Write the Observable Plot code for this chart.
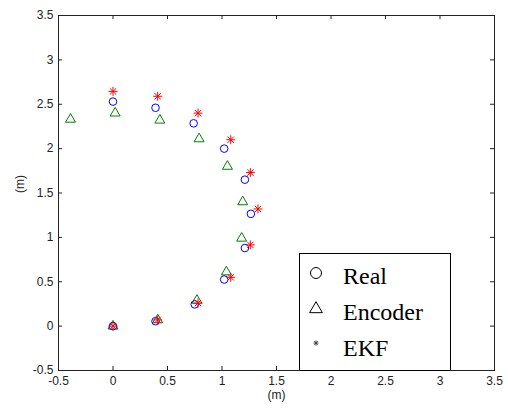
<!DOCTYPE html>
<html>
<head>
<meta charset="utf-8">
<script src="https://cdn.jsdelivr.net/npm/d3@7"></script>
<script src="https://cdn.jsdelivr.net/npm/@observablehq/plot@0.6"></script>
<style>
  html, body { margin: 0; padding: 0; background: #fff; }
  #wrap { position: relative; width: 508px; height: 409px; }
  #legend { position: absolute; left: 299px; top: 253px; width: 150px; height: 116px;
            border: 1px solid #000; background: #fff; box-sizing: content-box; }
</style>
</head>
<body>
<div id="wrap"><div id="chart"></div><div id="legend"></div></div>
<script>
// Data
const realX    = [0, 0.39, 0.75, 1.02, 1.21, 1.265, 1.21, 1.02, 0.74, 0.39, 0];
const realY    = [0, 0.055, 0.245, 0.525, 0.88, 1.265, 1.65, 2.0, 2.285, 2.46, 2.53];
const encoderX = [0, 0.41, 0.77, 1.04, 1.18, 1.19, 1.05, 0.79, 0.43, 0.02, -0.39];
const encoderY = [0, 0.07, 0.29, 0.61, 0.99, 1.40, 1.80, 2.11, 2.32, 2.40, 2.33];
const ekfX     = [0, 0.41, 0.78, 1.08, 1.26, 1.33, 1.26, 1.08, 0.78, 0.41, 0];
const ekfY     = [0, 0.07, 0.26, 0.55, 0.915, 1.32, 1.73, 2.10, 2.40, 2.59, 2.645];
const xTicks   = [-0.5, 0, 0.5, 1, 1.5, 2, 2.5, 3, 3.5];
const yTicks   = [-0.5, 0, 0.5, 1, 1.5, 2, 2.5, 3, 3.5];
const seriesNames = ["Real", "Encoder", "EKF"];
const axisLabelX = "(m)";
const axisLabelY = "(m)";

const zip = (xs, ys) => xs.map((x, i) => ({x, y: ys[i]}));
const real = zip(realX, realY);
const enc = zip(encoderX, encoderY);
const ekf = zip(ekfX, ekfY);

const W = 508, H = 409, mL = 58, mR = 14, mT = 15, mB = 39;
const frameH = H - mT - mB, frameW = W - mL - mR, tk = 4;
const fmt = d => String(d);

const chart = Plot.plot({
  width: W, height: H,
  marginLeft: mL, marginRight: mR, marginTop: mT, marginBottom: mB,
  style: {fontFamily: "Liberation Sans, Arial, sans-serif", fontSize: "12px", color: "#222", background: "#fff"},
  x: {domain: [-0.5, 3.5]},
  y: {domain: [-0.5, 3.5]},
  marks: [
    Plot.axisX(xTicks, {anchor: "bottom", tickSize: 0, tickPadding: 6, tickFormat: fmt, fontSize: 12, label: null}),
    Plot.axisY(yTicks, {anchor: "left", tickSize: 0, tickPadding: 5, tickFormat: fmt, fontSize: 12, label: null}),
    Plot.tickX(xTicks, {x: d => d, insetTop: frameH - tk, stroke: "#222"}),
    Plot.tickX(xTicks, {x: d => d, insetBottom: frameH - tk, stroke: "#222"}),
    Plot.tickY(yTicks, {y: d => d, insetRight: frameW - tk, stroke: "#222"}),
    Plot.tickY(yTicks, {y: d => d, insetLeft: frameW - tk, stroke: "#222"}),
    Plot.frame({stroke: "#222"}),
    Plot.text([axisLabelX], {text: d => d, frameAnchor: "bottom", dy: 28, fontSize: 12, fill: "#222"}),
    Plot.text([axisLabelY], {text: d => d, frameAnchor: "left", dx: -38, rotate: -90, fontSize: 12, fill: "#222"}),
    Plot.dot(enc, {x: "x", y: "y", symbol: "triangle", r: 3.7, stroke: "#008000", strokeWidth: 1}),
    Plot.dot(real, {x: "x", y: "y", symbol: "circle", r: 3.8, stroke: "#0000ff", strokeWidth: 1}),
    Plot.dot(ekf, {x: "x", y: "y", symbol: "plus", r: 3, stroke: "#ff0000", strokeWidth: 1}),
    Plot.dot(ekf, {x: "x", y: "y", symbol: "times", r: 3, stroke: "#ff0000", strokeWidth: 1})
  ]
});
document.getElementById("chart").appendChild(chart);

// Legend (inside the plot area, MATLAB style)
const lsvg = d3.select("#legend").append("svg").attr("width", 150).attr("height", 116);
const symSets = [[d3.symbolCircle], [d3.symbolTriangle], [d3.symbolPlus, d3.symbolTimes]];
const sizes = [Math.PI * 5.5 * 5.5, 70, 10];
const symY = [19, 55, 89];
const txtY = [30, 66, 102];
const symStroke = ["#000", "#000", "#444"];
seriesNames.forEach((name, i) => {
  symSets[i].forEach(s => {
    lsvg.append("path")
      .attr("d", d3.symbol(s, sizes[i])())
      .attr("transform", `translate(16,${symY[i]})`)
      .attr("fill", "none").attr("stroke", symStroke[i]).attr("stroke-width", 1);
  });
  lsvg.append("text")
    .attr("x", 43).attr("y", txtY[i])
    .attr("font-family", "Liberation Serif, Times New Roman, serif")
    .attr("font-size", 24).attr("fill", "#000")
    .text(name);
});
</script>
</body>
</html>
